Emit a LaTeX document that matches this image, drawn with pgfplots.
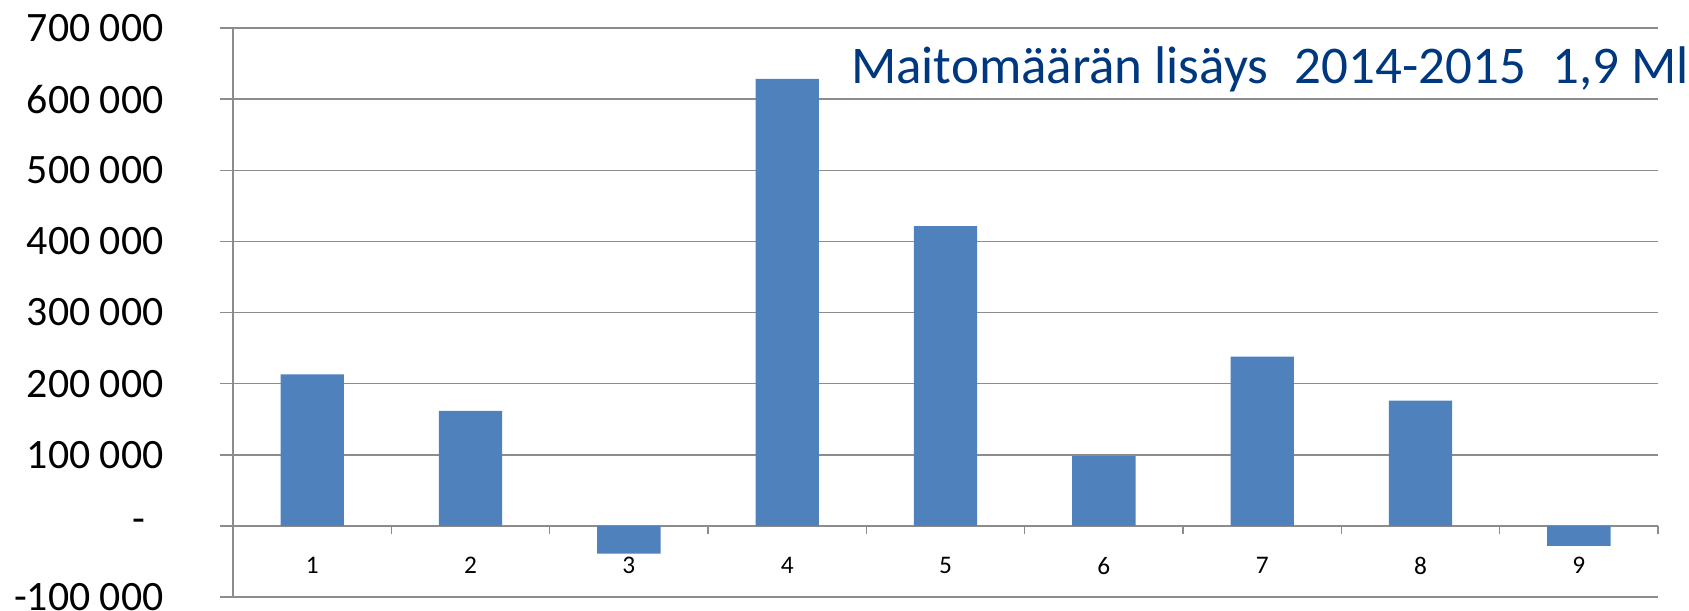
\documentclass[border=0pt]{standalone}
\usepackage{pgfplots}
\pgfplotsset{compat=1.18}
\usepackage{fontspec}
\setmainfont{Carlito}
\definecolor{barblue}{RGB}{79,129,189}
\definecolor{gridgray}{RGB}{140,140,140}
\definecolor{titleblue}{RGB}{0,56,128}
\begin{document}
\begin{tikzpicture}
\useasboundingbox (0,0) rectangle (844.5bp,305.5bp);
\begin{axis}[
  at={(116.5bp,7bp)}, anchor=south west,
  scale only axis, width=712.5bp, height=284.5bp,
  xmin=0.5, xmax=9.5, ymin=-100000, ymax=700000,
  scaled y ticks=false,
  axis x line*=middle, axis y line*=left,
  axis line style={gridgray, line width=0.75bp},
  xtick={1,2,3,4,5,6,7,8,9},
  xticklabels={1,2,3,4,5,6,7,8,9},
  major x tick style={draw=none},
  minor xtick={1.5,2.5,3.5,4.5,5.5,6.5,7.5,8.5,9.5},
  minor x tick style={gridgray, line width=0.75bp},
  xtick align=outside,
  minor tick length=4bp,
  ytick={-100000,0,100000,200000,300000,400000,500000,600000,700000},
  yticklabels={-100 000,{\makebox[15.5bp][l]{-}},100 000,200 000,300 000,400 000,500 000,600 000,700 000},
  ytick align=outside,
  major tick length=6.5bp,
  y tick style={gridgray, line width=0.75bp},
  ymajorgrids,
  grid style={gridgray, line width=0.75bp},
  yticklabel style={font=\fontsize{21}{24}\selectfont, anchor=east, inner sep=0pt, xshift=-28bp},
  xticklabel style={font=\fontsize{12.7}{15}\selectfont, anchor=north, inner sep=0pt, yshift=-9bp},
  clip=false,
]
\addplot[ybar, bar width=0.4, fill=barblue, draw=none] coordinates {
(1,213000) (2,161700) (3,-38900) (4,628600) (5,421500) (6,98000) (7,238000) (8,176000) (9,-28000)
};
\end{axis}
\node[anchor=base west, inner sep=0pt, text=titleblue, font=\fontsize{26.6}{30}\selectfont] at (425.3bp,263.5bp) {Maitomäärän lisäys\hspace{0.5em}2014-2015\hspace{0.5em}1,9 Ml};
\end{tikzpicture}
\end{document}
